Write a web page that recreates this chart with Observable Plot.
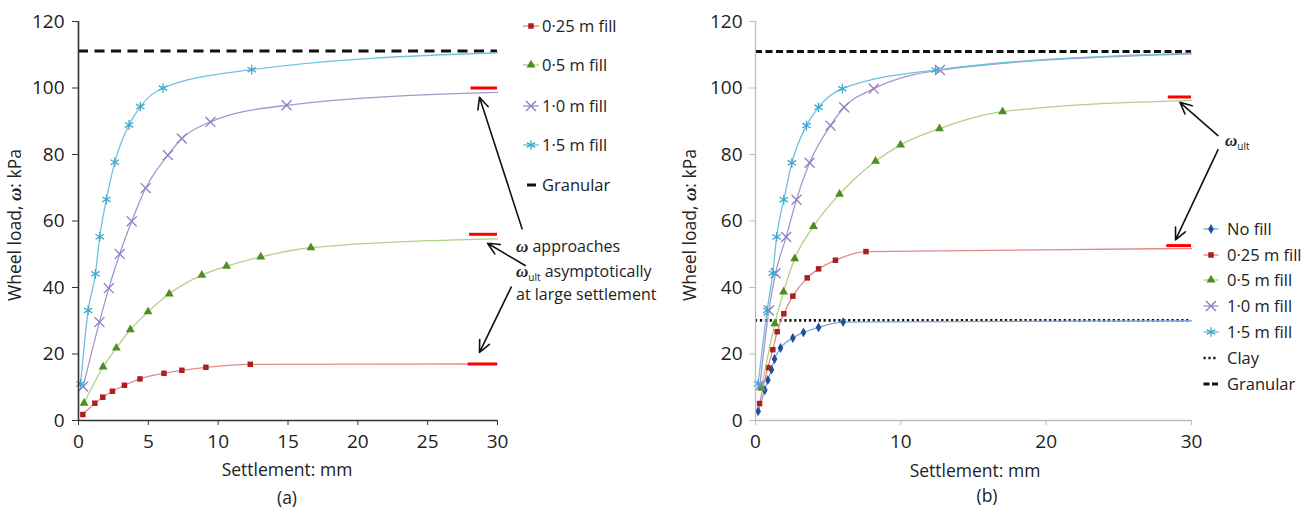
<!DOCTYPE html>
<html><head><meta charset="utf-8">
<script src="https://cdn.jsdelivr.net/npm/d3@7"></script>
<script src="https://cdn.jsdelivr.net/npm/@observablehq/plot@0.6"></script>
<style>
body{margin:0;background:#fff;font-family:"Open Sans",sans-serif;}
#wrap{position:relative;width:1316px;height:514px;overflow:hidden;background:#fff;}
#wrap svg{position:absolute;top:0;}
</style></head><body><div id="wrap"></div>
<script>
// ---------- DATA ----------
// Panel (a)
const aLabels = ["0·25 m fill", "0·5 m fill", "1·0 m fill", "1·5 m fill"];
const aS025 = [0.31,1.17,1.74,2.43,3.29,4.40,6.12,7.40,9.12,12.30];
const aW025 = [1.8,5.2,7.0,8.8,10.6,12.5,14.2,15.1,16.0,16.9];
const aS05  = [0.40,1.76,2.71,3.71,4.98,6.50,8.83,10.60,13.05,16.64];
const aW05  = [5.2,16.1,21.8,27.3,32.7,38.1,43.7,46.4,49.2,52.0];
const aS10  = [0.33,1.50,2.17,2.95,3.81,4.81,6.40,7.40,9.45,14.90];
const aW10  = [10.2,29.6,39.8,50.1,59.9,69.9,79.8,84.8,89.8,94.8];
const aS15  = [0.15,0.69,1.21,1.52,2.00,2.60,3.62,4.43,6.05,12.40];
const aW15  = [11.0,33.1,44.1,55.3,66.5,77.7,88.9,94.4,100.0,105.5];
const aEnd  = [17.0, 54.6, 98.7, 110.6];       // curve value at 30 mm
const aGranular = 111.1;
const aUlt = [17.0, 56.0, 100.0];               // omega_ult markers
const aUltFrom = [27.9, 28.0, 28.1];

// Panel (b)
const bLabels = ["No fill", "0·25 m fill", "0·5 m fill", "1·0 m fill", "1·5 m fill"];
const bS0   = [0.18,0.64,0.85,1.10,1.31,1.72,2.57,3.30,4.34,6.03];
const bW0   = [2.8,9.1,12.2,15.3,18.5,21.8,24.8,26.5,28.0,29.6];
const bS025 = [0.28,0.85,1.19,1.49,1.95,2.57,3.56,4.34,5.50,7.60];
const bW025 = [5.1,15.9,21.3,26.7,32.1,37.4,42.9,45.6,48.2,50.8];
const bS05  = [0.41,1.33,1.93,2.70,3.99,5.78,8.26,9.98,12.66,17.00];
const bW05  = [9.7,29.1,38.7,48.7,58.4,68.1,78.0,82.9,87.8,92.9];
const bS10  = [0.30,0.92,1.38,2.11,2.82,3.72,5.16,6.10,8.14,12.69];
const bW10  = [10.5,33.1,44.3,55.2,66.4,77.5,88.7,94.2,99.8,105.4];
const bS15  = [0.18,0.80,1.19,1.45,1.95,2.50,3.51,4.34,5.97,12.39];
const bW15  = [11.0,33.1,44.3,55.2,66.4,77.5,88.7,94.2,99.8,105.4];
const bEnd  = [30.0, 51.7, 96.3, 110.3, 110.5];
const bGranular = 111.0;
const bClay = 30.1;
const bUlt = [52.6, 97.3];
const bUltFrom = [28.3, 28.4];

const xTicksA = [0,5,10,15,20,25,30];
const xTicksB = [0,10,20,30];
const yTicks = [0,20,40,60,80,100,120];

// ---------- STYLES ----------
const sty = {
  "No fill":     {line:"#86aad8", mark:"#1f4f9e", symbol:"diamond",  r:3.0, stroked:false},
  "0·25 m fill": {line:"#e28a8a", mark:"#ad1f1f", symbol:"square",   r:3.1, stroked:false},
  "0·5 m fill":  {line:"#afd184", mark:"#4e8e1e", symbol:"triangle", r:3.3, stroked:false},
  "1·0 m fill":  {line:"#a994cf", mark:"#9479c2", symbol:"times",    r:4.6, stroked:true},
  "1·5 m fill":  {line:"#6ec2de", mark:"#3fa9cf", symbol:"asterisk", r:4.6, stroked:true}
};

function rows(s, w) { return s.map((x, i) => ({x, y: w[i]})); }

function seriesMarks(name, s, w, end) {
  const st = sty[name];
  const pts = rows(s, w);
  const ln = pts.concat([{x: 30, y: end}]);
  return [
    Plot.line(ln, {x:"x", y:"y", stroke: st.line, strokeWidth: 1.3, curve: "monotone-x"}),
    st.stroked
      ? Plot.dot(pts, {x:"x", y:"y", symbol: st.symbol, r: st.r, stroke: st.mark, strokeWidth: 1.3})
      : Plot.dot(pts, {x:"x", y:"y", symbol: st.symbol, r: st.r, fill: st.mark, stroke: "none"})
  ];
}

const FONT = "'Open Sans', sans-serif";
const wrap = document.getElementById("wrap");

function makePlot(cfg) {
  const p = Plot.plot({
    width: cfg.width, height: 514,
    marginLeft: cfg.ml, marginRight: cfg.mr, marginTop: 21, marginBottom: 94,
    x: {domain: [0, 30]}, y: {domain: [0, 120]},
    style: {fontFamily: FONT, fontSize: "19px", color: "#222", background: "transparent", overflow: "visible"},
    marks: [
      ...cfg.marks,
      Plot.ruleX([0], {stroke: cfg.axis, strokeWidth: cfg.axisW}),
      Plot.ruleY([0], {stroke: cfg.axis, strokeWidth: cfg.axisW}),
      Plot.axisX({ticks: cfg.xTicks, tickSize: 5, tickPadding: 9, stroke: cfg.axis, label: null, fontSize: 19}),
      Plot.axisY({ticks: yTicks, tickSize: 6, tickPadding: cfg.ypad, stroke: cfg.axis, label: null, fontSize: 19})
    ]
  });
  p.style.left = cfg.left + "px";
  wrap.appendChild(p);
  return d3.select(p);
}

function addText(svg, x, y, parts, opts = {}) {
  const t = svg.append("text").attr("x", x).attr("y", y)
    .attr("font-family", FONT).attr("font-size", opts.size || 17).attr("fill", "#222")
    .attr("text-anchor", opts.anchor || "start");
  if (opts.rotate) t.attr("transform", `rotate(-90 ${x} ${y})`);
  for (const pt of parts) {
    const ts = t.append("tspan").text(pt.t);
    if (pt.omega) ts.attr("font-family", "'Liberation Serif', serif").attr("font-style", "italic").attr("font-weight", "bold").attr("font-size", (opts.size || 17) + 1);
    if (pt.sub) ts.attr("font-size", 10).attr("dy", 3.5);
    if (pt.unsub) ts.attr("dy", -3.5);
  }
  return t;
}

function legendSymbol(svg, name, cx, cy, half) {
  const st = sty[name];
  svg.append("line").attr("x1", cx - half).attr("x2", cx + half).attr("y1", cy).attr("y2", cy)
    .attr("stroke", st.line).attr("stroke-width", 1.4);
  const sym = {diamond: d3.symbolDiamond, square: d3.symbolSquare, triangle: d3.symbolTriangle,
               times: d3.symbolTimes, asterisk: d3.symbolAsterisk}[st.symbol];
  const size = Math.PI * st.r * st.r;
  const path = svg.append("path").attr("d", d3.symbol(sym, size)()).attr("transform", `translate(${cx},${cy})`);
  if (st.stroked) path.attr("fill", "none").attr("stroke", st.mark).attr("stroke-width", 1.3);
  else path.attr("fill", st.mark);
}

// ---------- PANEL (a) ----------
const aSeries = [[aS025, aW025], [aS05, aW05], [aS10, aW10], [aS15, aW15]];
const svgA = makePlot({
  width: 660, left: 0, ml: 78, mr: 163, axis: "#333", axisW: 1.6, ypad: 8, xTicks: xTicksA,
  marks: [
    Plot.ruleY([aGranular], {x1: 0, x2: 30, stroke: "#111", strokeWidth: 3, strokeDasharray: "10,6.5"}),
    ...aSeries.flatMap((d, i) => seriesMarks(aLabels[i], d[0], d[1], aEnd[i])),
    Plot.ruleY(aUlt, {x1: (d, i) => aUltFrom[i], x2: 30, stroke: "#ff0000", strokeWidth: 3}),
    Plot.arrow([
      {x1: 31.76, y1: 57.7, x2: 28.71, y2: 97.2},
      {x1: 31.98, y1: 46.6, x2: 29.29, y2: 53.3},
      {x1: 30.98, y1: 40.1, x2: 28.71, y2: 20.5}
    ], {x1: "x1", y1: "y1", x2: "x2", y2: "y2", stroke: "#111", strokeWidth: 1.6, headLength: 12, headAngle: 50})
  ]
});
addText(svgA, 21, 225, [{t: "Wheel load, "}, {t: "ω", omega: true}, {t: ": kPa"}], {anchor: "middle", rotate: true, size: 17.5});
addText(svgA, 287, 476, [{t: "Settlement: mm"}], {anchor: "middle", size: 17.5});
addText(svgA, 287, 504, [{t: "(a)"}], {anchor: "middle", size: 17.5});
addText(svgA, 516, 252, [{t: "ω", omega: true}, {t: " approaches"}], {size: 16});
addText(svgA, 516, 277, [{t: "ω", omega: true}, {t: "ult", sub: true}, {t: " asymptotically", unsub: true}], {size: 16});
addText(svgA, 516, 300, [{t: "at large settlement"}], {size: 16});
// legend (a)
const legAY = [26, 65, 106, 145, 185];
aLabels.forEach((n, i) => {
  legendSymbol(svgA, n, 531, legAY[i], 8);
  addText(svgA, 542, legAY[i] + 6, [{t: n}], {size: 16.5});
});
svgA.append("line").attr("x1", 527).attr("x2", 536).attr("y1", legAY[4]).attr("y2", legAY[4]).attr("stroke", "#111").attr("stroke-width", 3);
addText(svgA, 542, legAY[4] + 6, [{t: "Granular"}], {size: 16.5});

// ---------- PANEL (b) ----------
const bSeries = [[bS0, bW0], [bS025, bW025], [bS05, bW05], [bS10, bW10], [bS15, bW15]];
const svgB = makePlot({
  width: 656, left: 660, ml: 95, mr: 125, axis: "#bdbdbd", axisW: 1.3, ypad: 7, xTicks: xTicksB,
  marks: [
    Plot.ruleY([bGranular], {x1: 0, x2: 30, stroke: "#111", strokeWidth: 3, strokeDasharray: "7,3.5"}),
    Plot.ruleY([bClay], {x1: 0, x2: 30, stroke: "#111", strokeWidth: 2.6, strokeDasharray: "2.2,2.7"}),
    ...bSeries.flatMap((d, i) => seriesMarks(bLabels[i], d[0], d[1], bEnd[i])),
    Plot.ruleY(bUlt, {x1: (d, i) => bUltFrom[i], x2: 30, stroke: "#ff0000", strokeWidth: 3}),
    Plot.arrow([
      {x1: 31.82, y1: 85.7, x2: 29.2, y2: 95.7},
      {x1: 31.82, y1: 81.4, x2: 28.9, y2: 54.3}
    ], {x1: "x1", y1: "y1", x2: "x2", y2: "y2", stroke: "#111", strokeWidth: 1.6, headLength: 12, headAngle: 50})
  ]
});
addText(svgB, 36, 225, [{t: "Wheel load, "}, {t: "ω", omega: true}, {t: ": kPa"}], {anchor: "middle", rotate: true, size: 17.5});
addText(svgB, 315, 477, [{t: "Settlement: mm"}], {anchor: "middle", size: 17.5});
addText(svgB, 327, 502, [{t: "(b)"}], {anchor: "middle", size: 17.5});
addText(svgB, 565, 146, [{t: "ω", omega: true}, {t: "ult", sub: true}], {size: 16});
// legend (b)
const legBY = [229, 255, 280, 306, 332, 358, 384];
bLabels.forEach((n, i) => {
  legendSymbol(svgB, n, 551, legBY[i], 7.5);
  addText(svgB, 567, legBY[i] + 6, [{t: n}], {size: 16.5});
});
svgB.append("line").attr("x1", 543.5).attr("x2", 558).attr("y1", legBY[5]).attr("y2", legBY[5]).attr("stroke", "#111").attr("stroke-width", 2.6).attr("stroke-dasharray", "2.2,2.7");
addText(svgB, 567, legBY[5] + 6, [{t: "Clay"}], {size: 16.5});
svgB.append("line").attr("x1", 543.5).attr("x2", 558).attr("y1", legBY[6]).attr("y2", legBY[6]).attr("stroke", "#111").attr("stroke-width", 3).attr("stroke-dasharray", "6,2.5");
addText(svgB, 567, legBY[6] + 6, [{t: "Granular"}], {size: 16.5});
</script></body></html>
